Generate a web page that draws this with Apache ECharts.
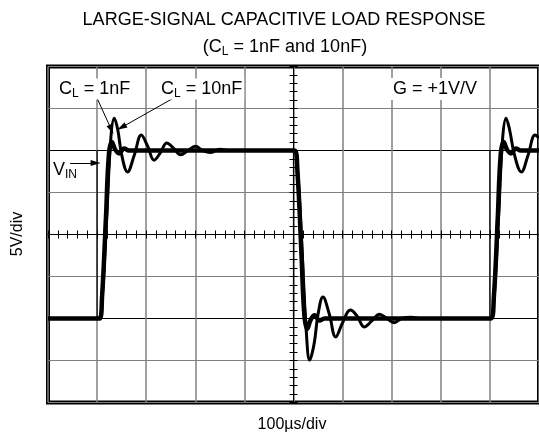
<!DOCTYPE html>
<html>
<head>
<meta charset="utf-8">
<script src="https://cdn.jsdelivr.net/npm/echarts@6/dist/echarts.min.js"></script>
<style>
  html, body { margin: 0; padding: 0; background: #fff; }
  #chart { width: 539px; height: 439px; }
</style>
</head>
<body>
<div id="chart"></div>
<script>
// x in time divisions (-5..5, 100us/div), y in volt divisions (-4..4, 5V/div)
const vin = [[-5, -2], [-4, -2], [-4, 2], [0, 2], [0, -2], [4, -2], [4, 2], [5, 2]];

const out1nF = [
  [-5, -2], [-3.95, -2], [-3.9, -1.5], [-3.82, 0.4], [-3.76, 1.9], [-3.7, 2.2], [-3.63, 2.02],
  [-3.55, 1.93], [-3.45, 2.05], [-3.35, 2.0], [0.02, 2.0],
  [0.08, 1.5], [0.16, -0.4], [0.22, -1.9], [0.28, -2.25], [0.35, -2.03], [0.43, -1.92],
  [0.53, -2.05], [0.63, -2.0], [4.02, -2.0],
  [4.08, -1.5], [4.16, 0.4], [4.22, 1.9], [4.28, 2.2], [4.35, 2.02], [4.43, 1.93],
  [4.53, 2.05], [4.63, 2.0], [5, 2.0]
];

const out10nF = [
  [-5, -2], [-3.95, -2], [-3.9, -1.6], [-3.8, 0.5], [-3.72, 2.3], [-3.65, 2.77], [-3.58, 2.5],
  [-3.5, 1.9], [-3.38, 1.49], [-3.24, 1.9], [-3.1, 2.37], [-2.97, 2.1], [-2.84, 1.77],
  [-2.71, 1.95], [-2.58, 2.18], [-2.44, 2.05], [-2.3, 1.9], [-2.15, 2.0], [-2.0, 2.1],
  [-1.85, 2.0], [-1.7, 1.95], [-1.5, 2.03], [-1.3, 2.0], [0.02, 2.0],
  [0.08, 1.6], [0.18, -0.5], [0.26, -2.3], [0.33, -2.99], [0.42, -2.6], [0.5, -1.9],
  [0.6, -1.49], [0.73, -1.9], [0.86, -2.44], [1.0, -2.1], [1.16, -1.8], [1.3, -1.95],
  [1.44, -2.2], [1.6, -2.05], [1.75, -1.9], [1.9, -2.0], [2.05, -2.1], [2.2, -2.0],
  [2.4, -1.97], [2.6, -2.0], [4.02, -2.0],
  [4.08, -1.6], [4.18, 0.5], [4.26, 2.3], [4.33, 2.77], [4.4, 2.5], [4.5, 1.9],
  [4.64, 1.49], [4.78, 1.9], [4.92, 2.37], [5, 2.3]
];

// annotation arrows: [from, to] in data coordinates
const arrows = [
  [[-4.01, 3.27], [-3.71, 2.5]],   // C_L = 1nF
  [[-2.23, 3.39], [-3.5, 2.55]],   // C_L = 10nF
  [[-4.55, 1.7], [-4.03, 1.7]]     // V_IN
];

const FONT = 'Liberation Sans, Arial, sans-serif';
const GRAY = '#808080';
// split line colours for y = -4..4 (the +/-2 reference levels are black)
const ySplitColors = [GRAY, GRAY, '#000', GRAY, GRAY, GRAY, '#000', GRAY, GRAY];

const sub = {
  b: { fontSize: 18, fontFamily: FONT, color: '#000' },
  s: { fontSize: 12, fontFamily: FONT, color: '#000', padding: [9, 0, 0, 0] }
};

function tickAxis(dim, inside, idx, withGrid) {
  const ax = {
    type: 'value',
    min: dim === 'x' ? -5 : -4,
    max: dim === 'x' ? 5 : 4,
    interval: 1,
    position: dim === 'x' ? 'bottom' : 'left',
    axisLine: { show: true, onZero: true, onZeroAxisIndex: idx, lineStyle: { color: '#000', width: 1 } },
    axisTick: { show: true, inside: inside, length: 4, lineStyle: { color: '#000', width: 1 } },
    minorTick: { show: true, splitNumber: 5, length: 4, lineStyle: { color: '#000', width: 1 } },
    axisLabel: { show: false },
    splitLine: { show: false }
  };
  if (withGrid) {
    ax.splitLine = {
      show: true,
      lineStyle: { color: dim === 'x' ? GRAY : ySplitColors, width: dim === 'x' ? 1.5 : 1.2 }
    };
  }
  return ax;
}

const chart = echarts.init(document.getElementById('chart'), null, { renderer: 'canvas' });

chart.setOption({
  animation: false,
  backgroundColor: '#fff',
  grid: {
    left: 48, top: 66.5, width: 495, height: 336,
    show: true, borderColor: '#000', borderWidth: 4, backgroundColor: 'transparent'
  },
  xAxis: [tickAxis('x', true, 0, true), tickAxis('x', false, 1, false)],
  yAxis: [tickAxis('y', true, 0, true), tickAxis('y', false, 1, false)],
  series: [
    {
      name: 'VIN', type: 'line', data: vin, showSymbol: false, z: 3,
      lineStyle: { color: '#000', width: 1.2 },
      markLine: {
        silent: true, symbol: ['none', 'triangle'], symbolSize: [6, 10],
        label: { show: false },
        lineStyle: { color: '#000', width: 1, type: 'solid' },
        data: arrows.map(a => [{ coord: a[0] }, { coord: a[1] }])
      }
    },
    {
      name: 'CL = 1nF', type: 'line', data: out1nF, showSymbol: false, smooth: 0.4, z: 4,
      lineStyle: { color: '#000', width: 4.5 }
    },
    {
      name: 'CL = 10nF', type: 'line', data: out10nF, showSymbol: false, smooth: 0.4, z: 4,
      lineStyle: { color: '#000', width: 3 }
    }
  ],
  graphic: [
    { type: 'text', x: 284, y: 20, style: { text: 'LARGE-SIGNAL CAPACITIVE LOAD RESPONSE', font: '18px ' + FONT, fill: '#000', align: 'center', verticalAlign: 'middle' } },
    { type: 'text', x: 285, y: 47, style: { text: '{b|(C}{s|L}{b| = 1nF and 10nF)}', rich: sub, align: 'center', verticalAlign: 'middle' } },
    { type: 'text', x: 57, y: 89, z: 10, style: { text: '{b|C}{s|L}{b| = 1nF}', rich: sub, backgroundColor: '#fff', padding: [0, 2], align: 'left', verticalAlign: 'middle' } },
    { type: 'text', x: 159, y: 89, z: 10, style: { text: '{b|C}{s|L}{b| = 10nF}', rich: sub, backgroundColor: '#fff', padding: [0, 2], align: 'left', verticalAlign: 'middle' } },
    { type: 'text', x: 391, y: 89, z: 10, style: { text: 'G = +1V/V', font: '18px ' + FONT, fill: '#000', backgroundColor: '#fff', padding: [2, 2], align: 'left', verticalAlign: 'middle' } },
    { type: 'text', x: 53, y: 170, z: 10, style: { text: '{b|V}{s|IN}', rich: sub, align: 'left', verticalAlign: 'middle' } },
    { type: 'text', x: 18, y: 234, rotation: Math.PI / 2, style: { text: '5V/div', font: '16px ' + FONT, fill: '#000', align: 'center', verticalAlign: 'middle' } },
    { type: 'text', x: 292, y: 425, style: { text: '100\u00b5s/div', font: '16px ' + FONT, fill: '#000', align: 'center', verticalAlign: 'middle' } }
  ]
});
</script>
</body>
</html>
